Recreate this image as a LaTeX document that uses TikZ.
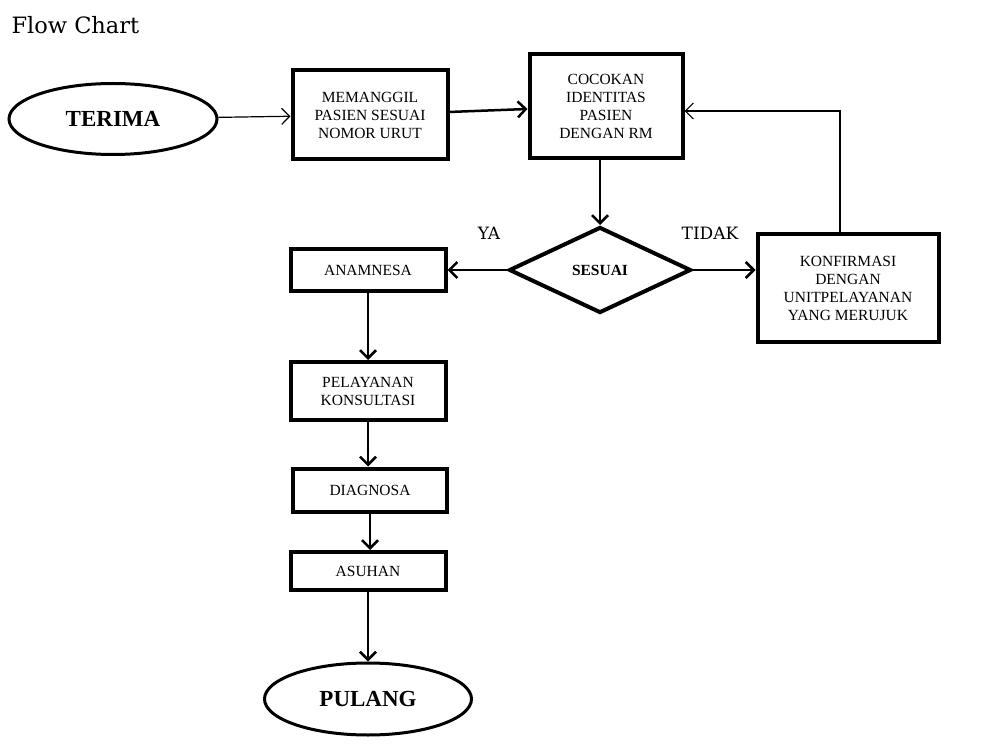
\documentclass[tikz,border=0pt]{standalone}
\usepackage{fontspec}
\setmainfont{Liberation Serif}
\newfontfamily\bookfont{DejaVu Serif}
\usepackage{tikz}
\usetikzlibrary{shapes.geometric,arrows.meta,positioning}
\tikzset{>={Straight Barb[length=8pt,width=16pt]}}
\tikzset{
  procbox/.style={draw, line width=4pt, rectangle, inner sep=0pt, align=center,
    font=\fontsize{15.5}{18}\selectfont},
  termnode/.style={draw, line width=3pt, ellipse, inner sep=0pt,
    minimum width=208pt, minimum height=71pt, font=\fontsize{23}{26}\selectfont\bfseries},
  decnode/.style={draw, line width=4pt, diamond, inner sep=0pt,
    minimum width=182pt, minimum height=86pt, font=\fontsize{15.5}{18}\selectfont\bfseries},
  labeltext/.style={font=\bookfont\fontsize{17}{20}\selectfont},
  flow/.style={->, line width=2.5pt},
  thinflow/.style={->, line width=1.2pt}
}
\begin{document}
\begin{tikzpicture}[x=1pt,y=-1pt]
  \useasboundingbox (0,0) rectangle (982,751);

  % Nodes
  \node[labeltext, anchor=west, font=\bookfont\fontsize{22.5}{24}\selectfont] (title) at (8,25) {Flow Chart};
  \node[termnode]  (terima)  at (113,119) {TERIMA};
  \node[procbox, minimum width=155pt, minimum height=89pt]  (panggil) at (370,115)
    {MEMANGGIL\\PASIEN SESUAI\\NOMOR URUT};
  \node[procbox, minimum width=153pt, minimum height=104pt] (cocok)   at (606,106)
    {COCOKAN\\IDENTITAS\\PASIEN\\DENGAN RM};
  \node[decnode]   (sesuai)  at (600,270) {SESUAI};
  \node[procbox, minimum width=181pt, minimum height=107pt] (konfirm) at (848,288)
    {KONFIRMASI\\DENGAN\\UNITPELAYANAN\\YANG MERUJUK};
  \node[procbox, minimum width=155pt, minimum height=42pt]  (anamnesa) at (368,270) {ANAMNESA};
  \node[procbox, minimum width=155pt, minimum height=58pt]  (layan)   at (368,391)
    {PELAYANAN\\KONSULTASI};
  \node[procbox, minimum width=154pt, minimum height=43pt]  (diagnosa) at (370,490) {DIAGNOSA};
  \node[procbox, minimum width=155pt, minimum height=38pt]  (asuhan)  at (368,571) {ASUHAN};
  \node[termnode, minimum width=207pt, minimum height=72pt] (pulang)  at (368,699) {PULANG};
  \node[labeltext] (ya)    at (489,233) {YA};
  \node[labeltext] (tidak) at (710,233) {TIDAK};

  % Edges
  \draw[thinflow] (terima) -- (panggil);
  \draw[flow] (panggil) -- (cocok);
  \draw[flow] (sesuai |- cocok.south) -- (sesuai.north);
  \draw[flow] (sesuai.east) -- (sesuai.east -| konfirm.west);
  \draw[thinflow] ([xshift=-8pt]konfirm.north) |- ([yshift=-5pt]cocok.east);
  \draw[flow] (sesuai.west) -- (sesuai.west -| anamnesa.east);
  \draw[flow] (anamnesa) -- (layan);
  \draw[flow] (layan) -- (layan |- diagnosa.north);
  \draw[flow] (diagnosa) -- (diagnosa |- asuhan.north);
  \draw[flow] (asuhan) -- (pulang);

\end{tikzpicture}
\end{document}
